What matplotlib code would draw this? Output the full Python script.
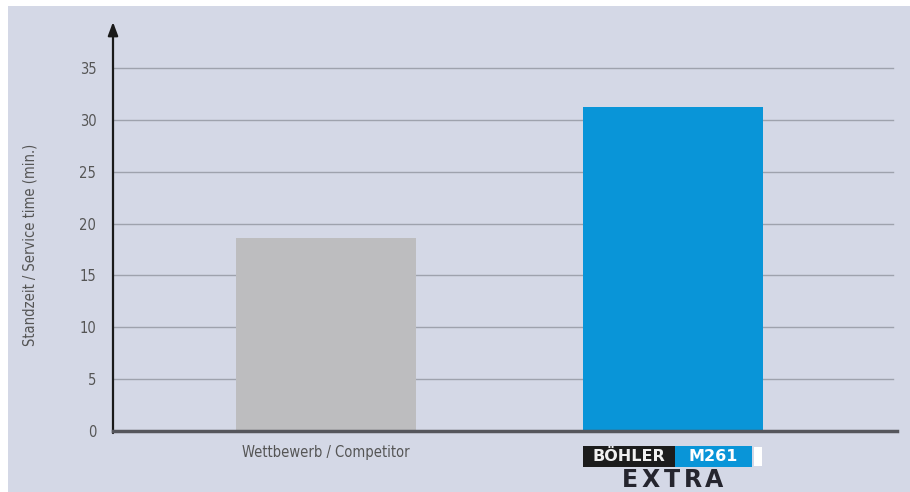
import matplotlib
matplotlib.use("Agg")
import matplotlib.pyplot as plt
from matplotlib.patches import Rectangle
from matplotlib import font_manager

categories = ["Wettbewerb / Competitor", "BÖHLER M261 EXTRA"]
values = [18.6, 31.2]
yticks = [0, 5, 10, 15, 20, 25, 30, 35]
ylabel = "Standzeit / Service time (min.)"

names = {f.name for f in font_manager.fontManager.ttflist}
narrow = "Liberation Sans Narrow" if "Liberation Sans Narrow" in names else "DejaVu Sans"
plt.rcParams["font.family"] = [narrow, "DejaVu Sans"]
plt.rcParams["font.stretch"] = "condensed"

W, H = 910, 492
fig = plt.figure(figsize=(W / 100, H / 100), dpi=100)
fig.patch.set_facecolor("white")

def fx(px):
    return px / W

def fy(py):
    return 1 - py / H

# panel background
fig.patches.append(Rectangle((fx(8), 0), 1 - fx(8), fy(6), transform=fig.transFigure,
                             facecolor="#d4d8e6", edgecolor="none", zorder=-5))

ax = fig.add_axes([fx(113), fy(431), fx(897) - fx(113), fy(22) - fy(431)])
ax.set_facecolor("none")
ax.set_zorder(2)

x = list(range(len(categories)))
colors = ["#bdbdbf", "#0995d8"]
ax.bar(x, values, width=0.52, color=colors, zorder=2)

ax.set_xlim(-0.614, 1.645)
ax.set_ylim(0, 35 * (431 - 22) / (431 - 68))
ax.set_yticks(yticks)
ax.set_yticklabels([str(t) for t in yticks], color="#555555", fontsize=10.5)
ax.tick_params(axis="y", length=0, pad=12)
for t in yticks[1:]:
    ax.axhline(t, xmin=0, xmax=(893 - 113) / (897 - 113), color="#9ea2ad", lw=1.0, zorder=1)

ax.set_xticks(x)
ax.set_xticklabels([categories[0], ""], color="#555555", fontsize=10.5)
ax.tick_params(axis="x", length=0, pad=10)

for s in ["top", "right", "left"]:
    ax.spines[s].set_visible(False)
ax.spines["bottom"].set_color("#55565c")
ax.spines["bottom"].set_linewidth(2.5)
ax.spines["bottom"].set_zorder(3)

# y axis arrow
ax.annotate("", xy=(0, 1.0), xycoords="axes fraction", xytext=(0, -0.005),
            textcoords="axes fraction",
            arrowprops=dict(arrowstyle="-|>,head_length=0.8,head_width=0.3",
                            color="#1a1a1a", lw=1.6, shrinkA=0, shrinkB=0))

fig.text(fx(30), fy(245), ylabel, rotation=90, ha="center", va="center",
         color="#555555", fontsize=10.5)

# BÖHLER logo under the second bar
fig.patches.append(Rectangle((fx(583), fy(467)), fx(675) - fx(583), fy(446) - fy(467),
                             transform=fig.transFigure, facecolor="#1c1c1c", edgecolor="none", zorder=5))
fig.patches.append(Rectangle((fx(675), fy(467)), fx(752) - fx(675), fy(446) - fy(467),
                             transform=fig.transFigure, facecolor="#0995d8", edgecolor="none", zorder=5))
fig.patches.append(Rectangle((fx(754), fy(466)), fx(762) - fx(754), fy(447) - fy(466),
                             transform=fig.transFigure, facecolor="white", edgecolor="none", zorder=5))
fig.text(fx(629), fy(456.5), "BÖHLER", color="#f0f0f0", fontsize=11.5, fontweight="bold",
         ha="center", va="center", family=["DejaVu Sans"], stretch="normal", zorder=6)
fig.text(fx(713), fy(456.5), "M261", color="white", fontsize=11.5, fontweight="bold",
         ha="center", va="center", family=["DejaVu Sans"], stretch="normal", zorder=6)
for i, ch in enumerate("EXTRA"):
    fig.text(fx(630 + 21 * i), fy(480), ch, color="#25252e", fontsize=17, fontweight="bold",
             ha="center", va="center", family=["DejaVu Sans"], stretch="normal", zorder=6)

fig.savefig("out.png", dpi=100, facecolor="white")
